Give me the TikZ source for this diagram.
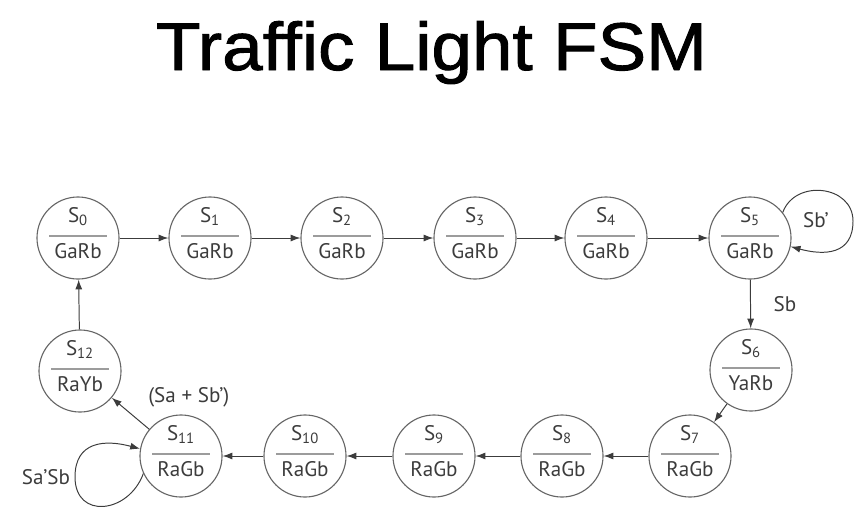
\documentclass[tikz,border=0pt]{standalone}
\usepackage{fontspec}
\setmainfont{PT Sans}
\newfontfamily\titlefont[FakeBold=1.4, FakeStretch=1.08]{Liberation Sans}
\usetikzlibrary{arrows.meta}
\definecolor{fsmtext}{HTML}{3C3C3C}
\definecolor{fsmline}{HTML}{666666}
\definecolor{fsmbar}{HTML}{9C9C9C}
\tikzset{
  statecircle/.style={circle, draw=fsmline, line width=0.8pt, minimum size=2.05cm, inner sep=0pt},
  statetext/.style={text=fsmtext, font=\fontsize{15}{17}\selectfont, inner sep=0pt, anchor=base},
  statebar/.style={draw=fsmbar, line width=1.3pt},
  trans/.style={-{Latex[length=7pt,width=5pt]}, draw=fsmtext, line width=0.7pt},
  edgelabel/.style={text=fsmtext, font=\fontsize{15}{17}\selectfont}
}
% one state: number, x, y (pixels), output
\newcommand{\fsmstate}[4]{%
  \node[statecircle] (s#1) at (#2,-#3) {};
  \node[statetext] (s#1-name) at (#2,-#3+16) {S\textsubscript{#1}};
  \draw[statebar] (#2-29,-#3+2) -- (#2+29,-#3+2);
  \node[statetext] (s#1-out) at (#2,-#3-20) {#4};
}

\begin{document}
\begin{tikzpicture}[x=0.025cm, y=0.025cm]
  \useasboundingbox (0,0) rectangle (868,-527);
  \node[text=black, anchor=base, inner sep=0pt, font=\titlefont\fontsize{48}{58}\selectfont] (title) at (431.5,-70) {Traffic Light FSM};

  \foreach \n/\x/\y/\out in {0/78/238/GaRb, 1/210/238/GaRb, 2/342/238/GaRb,
      3/475/238/GaRb, 4/606/238/GaRb, 5/750/238/GaRb, 6/751/370/YaRb,
      7/690/456/RaGb, 8/562/456/RaGb, 9/434/456/RaGb, 10/305/456/RaGb,
      11/181/456/RaGb, 12/80/371/RaYb}{
    \fsmstate{\n}{\x}{\y}{\out}
  }

  \foreach \a/\b in {0/1, 1/2, 2/3, 3/4, 4/5, 6/7, 7/8, 8/9, 9/10, 10/11, 12/0}
    \draw[trans] (s\a) -- (s\b);

  \draw[trans] (s5) -- node[edgelabel, right=0.45cm] (lab-sb) {Sb} (s6);
  \draw[trans] (s11) -- node[edgelabel, pos=0.45, anchor=south west, inner sep=3pt, xshift=8pt, yshift=2pt] (lab-sasb) {(Sa + Sb’)} (s12);

  % self loops
  \coordinate (loop5) at (853,-221);
  \coordinate (loop11) at (75,-477);
  \draw[trans] (s5.38) to[out=70, in=90, looseness=1.3] (loop5)
    to[out=-90, in=-15, looseness=1.3] (s5.-12);
  \node[edgelabel] (lab-sbn) at (816,-220) {Sb’};
  \draw[trans] (s11.205) to[out=-110, in=-90, looseness=1.6] (loop11)
    to[out=90, in=165, looseness=1.3] (s11.170);
  \node[edgelabel, anchor=east] (lab-sanb) at (loop11) {Sa’Sb};
\end{tikzpicture}
\end{document}
